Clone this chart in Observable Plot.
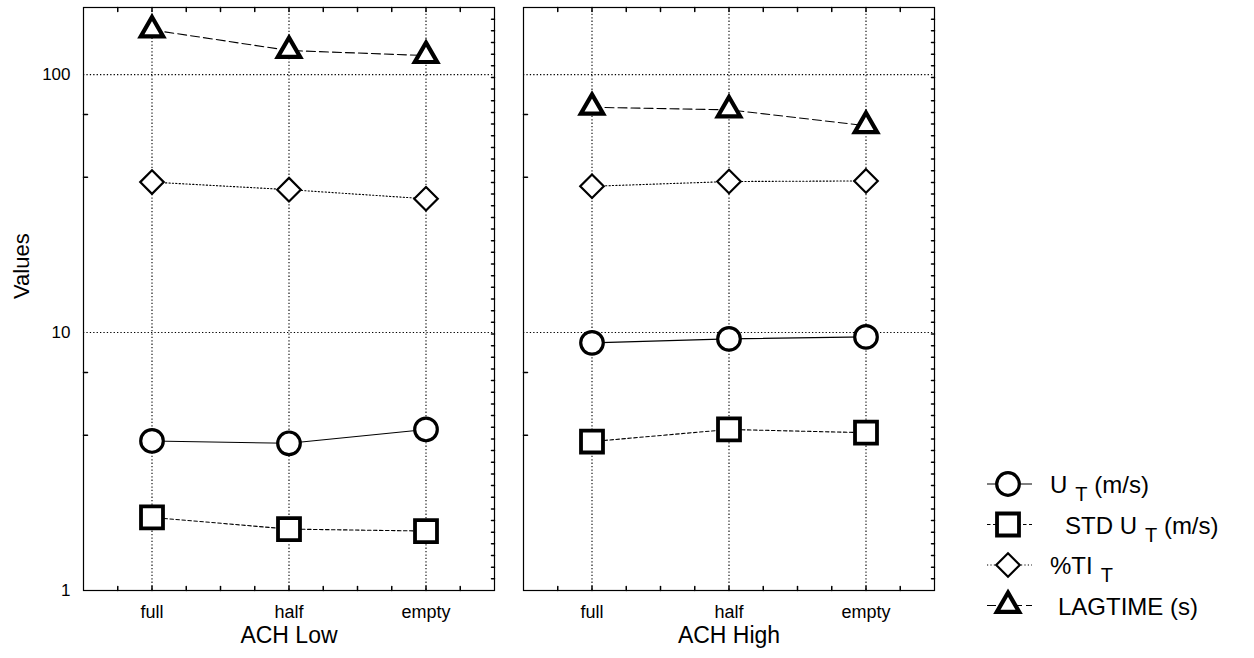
<!DOCTYPE html>
<html>
<head>
<meta charset="utf-8">
<script src="https://cdn.jsdelivr.net/npm/d3@7"></script>
<script src="https://cdn.jsdelivr.net/npm/@observablehq/plot@0.6"></script>
<style>
  body { margin: 0; background: #fff; font-family: "Liberation Sans", Arial, sans-serif; }
  #wrap { position: relative; width: 1254px; height: 658px; overflow: hidden; }
  #legend { position: absolute; left: 980px; top: 455px; }
</style>
</head>
<body>
<div id="wrap"><div id="chart"></div><div id="legend"></div></div>
<script>
// ---- data ----
const panels = ["ACH Low", "ACH High"];
const conditions = ["full", "half", "empty"];
const seriesKeys = ["UT", "STD", "TI", "LAG"];
const uT_low = [3.80, 3.72, 4.21];
const uT_high = [9.12, 9.45, 9.62];
const std_low = [1.92, 1.73, 1.70];
const std_high = [3.78, 4.21, 4.09];
const ti_low = [38.3, 35.8, 33.0];
const ti_high = [36.9, 38.5, 38.7];
const lag_low = [149, 124, 118.5];
const lag_high = [74.7, 73.0, 63.4];
const yTicks = [1, 10, 100];
const yMinorLeft = [4, 7, 40, 70];
const yMax = 182;

// ---- styles ----
const styles = {
  UT:  {symbol: "circle",   r: 11.3, sw: 3.2, dash: null},
  STD: {symbol: "square",   r: 12.4, sw: 3.8, dash: "3.5,2.5"},
  TI:  {symbol: "diamond2", r: 10.6, sw: 2.2, dash: "1.2,2.2"},
  LAG: {symbol: "triangle", r: 8.3,  sw: 4.2, dash: "9,4"}
};

const values = {
  UT: [uT_low, uT_high], STD: [std_low, std_high],
  TI: [ti_low, ti_high], LAG: [lag_low, lag_high]
};
const rows = [];
for (const s of seriesKeys) {
  panels.forEach((p, pi) => {
    values[s][pi].forEach((v, i) => rows.push({series: s, panel: p, i, value: v}));
  });
}

// minor tick positions (decoration)
const xMinor = d3.range(1, 12).map(k => -0.5 + k * 0.25);
const lmax = Math.log10(yMax);
const yMinorRight = d3.range(1, 50).map(k => Math.pow(10, k / 50 * lmax));
const tickShape = {draw(c, l) { c.moveTo(0, 0); c.lineTo(0, -l); }};
const gridDash = "1.3,2.1";

const marks = [
  Plot.ruleX([0, 1, 2], {x: d => d, stroke: "black", strokeWidth: 1.1, strokeDasharray: gridDash}),
  Plot.ruleY([10, 100], {y: d => d, stroke: "black", strokeWidth: 1.1, strokeDasharray: gridDash}),
  Plot.vector(xMinor, {x: d => d, frameAnchor: "top", shape: tickShape, length: 4, rotate: 180, anchor: "start", stroke: "black"}),
  Plot.vector(xMinor, {x: d => d, frameAnchor: "bottom", shape: tickShape, length: 4, rotate: 0, anchor: "start", stroke: "black"}),
  Plot.vector(yMinorLeft, {y: d => d, frameAnchor: "left", shape: tickShape, length: 4, rotate: 90, anchor: "start", stroke: "black"}),
  Plot.vector(yMinorRight, {y: d => d, frameAnchor: "right", shape: tickShape, length: 3, rotate: -90, anchor: "start", stroke: "black"}),
  Plot.frame({stroke: "black", strokeWidth: 1.2})
];
for (const s of seriesKeys) {
  const st = styles[s];
  marks.push(Plot.line(rows.filter(d => d.series === s), {
    x: "i", y: "value", fx: "panel", stroke: "black", strokeWidth: 1.1,
    strokeDasharray: st.dash
  }));
}
for (const s of seriesKeys) {
  const st = styles[s];
  marks.push(Plot.dot(rows.filter(d => d.series === s), {
    x: "i", y: "value", fx: "panel", symbol: st.symbol, r: st.r,
    fill: "white", stroke: "black", strokeWidth: st.sw
  }));
}
marks.push(
  Plot.axisY({anchor: "left", ticks: yTicks, tickSize: 0, tickPadding: 13, tickFormat: d => String(d), fontSize: 17, label: null}),
  Plot.axisX({anchor: "bottom", ticks: [0, 1, 2], tickFormat: i => conditions[i], tickSize: 0, tickPadding: 15, fontSize: 18, label: null}),
  Plot.axisFx({anchor: "bottom", tickSize: 0, tickPadding: 36, fontSize: 23, label: null}),
  Plot.text(["Values"], {fx: () => panels[0], frameAnchor: "left", text: d => d, rotate: -90, dx: -62, fontSize: 22, fill: "black"})
);

const chart = Plot.plot({
  width: 1254, height: 658,
  marginTop: 7, marginBottom: 68, marginLeft: 83, marginRight: 319,
  style: {fontFamily: "'Liberation Sans', Arial, sans-serif", background: "white", color: "black", overflow: "visible"},
  fx: {domain: panels, paddingInner: 29 / 440.5, paddingOuter: 0, label: null},
  x: {domain: [-0.5, 2.5], label: null},
  y: {type: "log", domain: [1, yMax], label: null},
  marks
});
document.getElementById("chart").appendChild(chart);

// ---- legend ----
const legendLabels = [
  {key: "UT",  main: "U", sub: "T", rest: " (m/s)", tx: 70},
  {key: "STD", main: "STD U", sub: "T", rest: " (m/s)", tx: 85},
  {key: "TI",  main: "%TI", sub: "T", rest: "", tx: 70},
  {key: "LAG", main: "LAGTIME (s)", sub: "", rest: "", tx: 78}
];
const symMap = {circle: d3.symbolCircle, square: d3.symbolSquare, diamond2: d3.symbolDiamond2, triangle: d3.symbolTriangle};
const lsvg = d3.select("#legend").append("svg").attr("width", 274).attr("height", 180)
  .style("font-family", "'Liberation Sans', Arial, sans-serif");
legendLabels.forEach((e, k) => {
  const st = styles[e.key];
  const cy = 29 + k * 40.5;
  const g = lsvg.append("g").attr("transform", `translate(0,${cy})`);
  g.append("line").attr("x1", 7).attr("x2", 52).attr("y1", 0).attr("y2", 0)
    .attr("stroke", "black").attr("stroke-width", 1.1).attr("stroke-dasharray", st.dash);
  g.append("path").attr("transform", "translate(28,0)")
    .attr("d", d3.symbol(symMap[st.symbol], Math.PI * st.r * st.r)())
    .attr("fill", "white").attr("stroke", "black").attr("stroke-width", st.sw);
  const t = g.append("text").attr("x", e.tx).attr("y", 9).attr("font-size", 24).attr("fill", "black");
  t.append("tspan").text(e.main);
  if (e.sub) {
    t.append("tspan").attr("dx", 8).attr("dy", 8).attr("font-size", 20).text(e.sub);
    if (e.rest) t.append("tspan").attr("dy", -8).text(e.rest);
  }
});
</script>
</body>
</html>
